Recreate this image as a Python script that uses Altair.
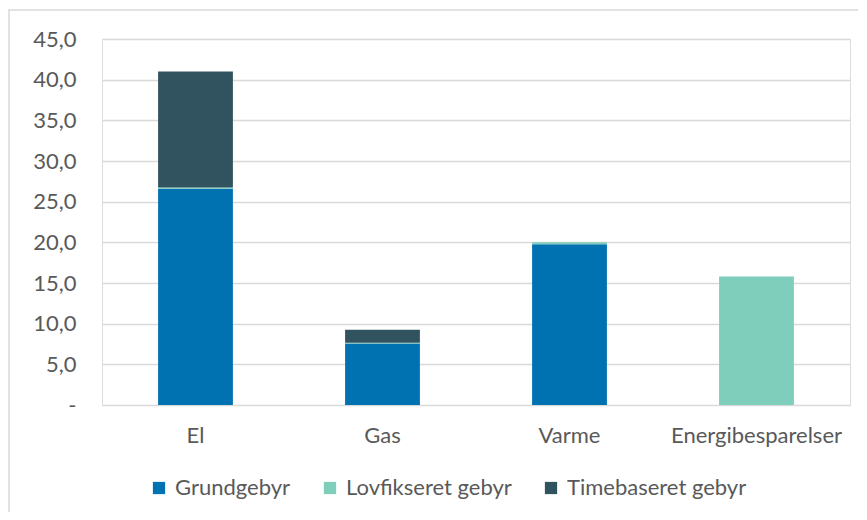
import altair as alt
import pandas as pd

categories = ["El", "Gas", "Varme", "Energibesparelser"]
series = ["Grundgebyr", "Lovfikseret gebyr", "Timebaseret gebyr"]
grundgebyr = [26.6, 7.55, 19.75, 0.0]
lovfikseret = [0.15, 0.1, 0.25, 15.8]
timebaseret = [14.25, 1.6, 0.0, 0.0]
colors = ["#0071B1", "#7FCDBB", "#30535F"]
y_ticks = [0, 5, 10, 15, 20, 25, 30, 35, 40, 45]

rows = []
for i, c in enumerate(categories):
    for j, (s, vals) in enumerate(zip(series, [grundgebyr, lovfikseret, timebaseret])):
        if vals[i] > 0:
            rows.append({"Kategori": c, "Serie": s, "Værdi": vals[i], "ordre": j})
df = pd.DataFrame(rows)

FONT = "Lato"
TXT = "#595959"

bars = alt.Chart(df).mark_bar().encode(
    x=alt.X("Kategori:N", sort=categories,
            scale=alt.Scale(paddingInner=0.6, paddingOuter=0.3),
            axis=alt.Axis(title=None, labelAngle=0, domain=False, ticks=False,
                          labelPadding=20, labelFontSize=22, labelColor=TXT,
                          labelFont=FONT, grid=False, labelLimit=0)),
    y=alt.Y("Værdi:Q", stack="zero",
            scale=alt.Scale(domain=[0, 45], nice=False),
            axis=alt.Axis(title=None, values=y_ticks, domain=False, ticks=False,
                          labelPadding=26, labelFontSize=22, labelColor=TXT,
                          labelFont=FONT, gridColor="#d9d9d9", gridWidth=1.5,
                          labelExpr="datum.value == 0 ? '-' : replace(format(datum.value, '.1f'), '.', ',')")),
    color=alt.Color("Serie:N", sort=series,
                    scale=alt.Scale(domain=series, range=colors),
                    legend=alt.Legend(title=None, orient="none", direction="horizontal",
                                      legendX=46, legendY=438,
                                      symbolType="square", symbolSize=150,
                                      symbolStrokeWidth=0, labelFontSize=22,
                                      labelFont=FONT, labelColor=TXT, labelLimit=0,
                                      labelOffset=5, columnPadding=28)),
    order=alt.Order("ordre:Q", sort="ascending"),
)

border = alt.Chart(pd.DataFrame({"a": [0]})).mark_rect(
    fill=None, stroke="#d9d9d9", strokeWidth=1.5, clip=False
).encode(
    x=alt.value(-93), x2=alt.value(900), y=alt.value(-29), y2=alt.value(600)
)

chart = alt.layer(bars, border).properties(
    width=748, height=366,
    autosize=alt.AutoSizeParams(type="none"),
    padding={"left": 94, "top": 31, "right": 8, "bottom": 107},
).configure_view(stroke=None).configure(background="white")

chart.save("out.html", embed_options={"renderer": "svg", "actions": False})
